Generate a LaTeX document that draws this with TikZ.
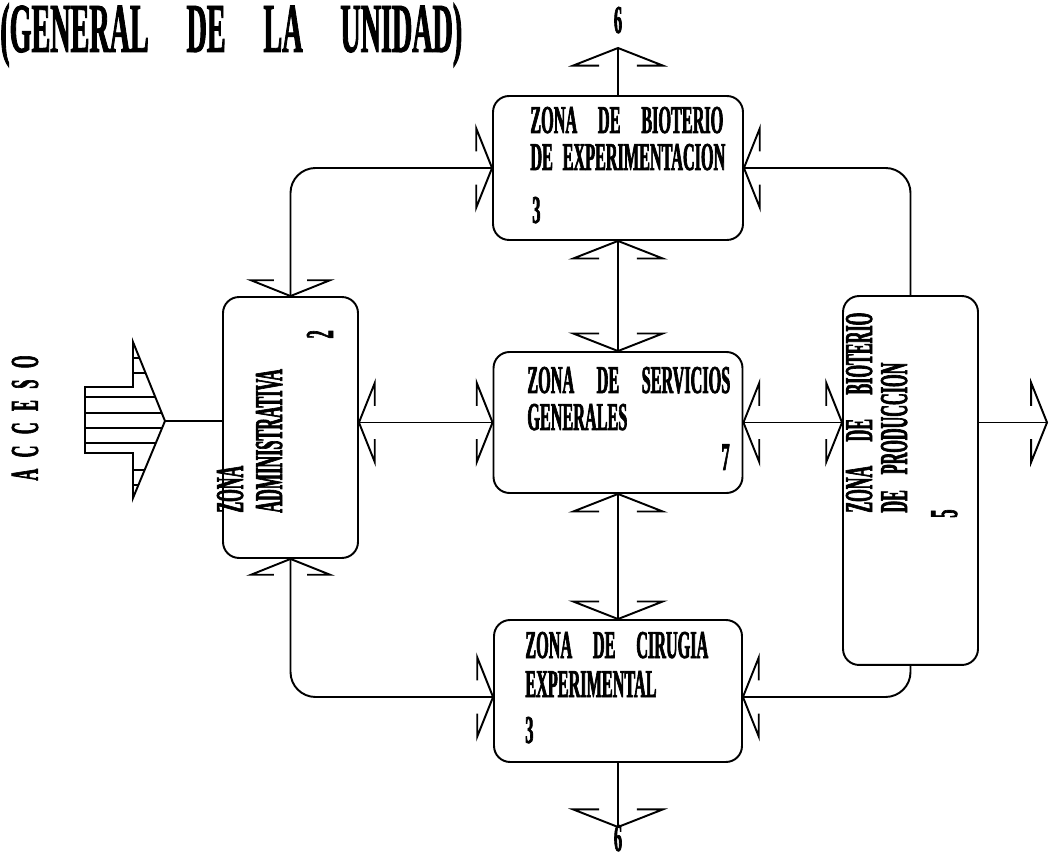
\documentclass[tikz,border=0pt]{standalone}
\usepackage{fontspec}
\newfontfamily\plotfont[FakeStretch=0.41, FakeBold=1.6]{Liberation Serif Bold}
\newfontfamily\titlefont[FakeStretch=0.40, FakeBold=1.2]{Liberation Serif Bold}
\usetikzlibrary{arrows.meta}

\newcommand\zonafont{\plotfont\fontsize{22.5}{21}\selectfont}
\newcommand\jline[2]{\makebox[#1][s]{#2}}

% open barb with short return ticks
\pgfdeclarearrow{
  name = Barb,
  defaults = {length = 9pt, width = 45pt},
  parameters = {\the\pgfarrowlength,\the\pgfarrowwidth},
  setup code = {
    \pgfarrowssettipend{0pt}
    \pgfarrowssetlineend{0pt}
    \pgfarrowssetvisualbackend{-\pgfarrowlength}
    \pgfarrowssetbackend{-\pgfarrowlength}
    \pgfarrowshullpoint{0pt}{0pt}
    \pgfarrowsupperhullpoint{-\pgfarrowlength}{.5\pgfarrowwidth}
    \pgfarrowssavethe\pgfarrowlength
    \pgfarrowssavethe\pgfarrowwidth
  },
  drawing code = {
    \pgfsetdash{}{0pt}
    \pgfpathmoveto{\pgfpoint{-\pgfarrowlength}{.21\pgfarrowwidth}}
    \pgfpathlineto{\pgfpoint{-\pgfarrowlength}{.5\pgfarrowwidth}}
    \pgfpathlineto{\pgfpointorigin}
    \pgfpathlineto{\pgfpoint{-\pgfarrowlength}{-.5\pgfarrowwidth}}
    \pgfpathlineto{\pgfpoint{-\pgfarrowlength}{-.21\pgfarrowwidth}}
    \pgfusepathqstroke
  }
}

\tikzset{
  htip/.tip={Barb},
  vtip/.tip={Barb[length=10pt,width=51pt]},
  zone/.style={draw, rounded corners=0.32cm, line width=1.1pt, inner sep=0pt},
  link/.style={line width=1.1pt, rounded corners=0.5cm},
  txt/.style={font=\zonafont, inner sep=0pt, anchor=base west},
}

\begin{document}
\begin{tikzpicture}[x=0.02cm,y=-0.02cm,line join=miter]
  \clip (0,0) rectangle (1061,857);

  % Title
  \node[txt, font=\titlefont\fontsize{40}{40}\selectfont] (title) at (0,52)
    {\jline{9.24cm}{(GENERAL DE LA UNIDAD)}};

  % Zones
  \node[zone, minimum width=5cm, minimum height=2.88cm] (bexp) at (618,168) {};
  \node[zone, minimum width=4.98cm, minimum height=2.82cm] (sgen) at (618,422.5) {};
  \node[zone, minimum width=4.96cm, minimum height=2.84cm] (cir) at (618,691) {};
  \node[zone, minimum width=2.7cm, minimum height=5.22cm] (adm) at (290.5,427.5) {};
  \node[zone, minimum width=2.7cm, minimum height=7.38cm] (prod) at (910.5,480.5) {};

  % Zone texts
  \node[txt] (bexp-a) at (530,133) {\jline{3.86cm}{ZONA DE BIOTERIO}};
  \node[txt] (bexp-b) at (530,170) {\jline{3.9cm}{DE EXPERIMENTACION}};
  \node[txt] (bexp-n) at (532,223) {3};

  \node[txt] (sgen-a) at (527,393) {\jline{4.06cm}{ZONA DE SERVICIOS}};
  \node[txt] (sgen-b) at (527,430) {GENERALES};
  \node[txt, anchor=base east] (sgen-n) at (730,470) {7};

  \node[txt] (cir-a) at (525,658) {\jline{3.66cm}{ZONA DE CIRUGIA}};
  \node[txt] (cir-b) at (525,697) {EXPERIMENTAL};
  \node[txt] (cir-n) at (525,743) {3};

  \node[txt, rotate=90] (adm-a) at (243,513) {ZONA};
  \node[txt, rotate=90] (adm-b) at (282,513) {ADMINISTRATIVA};
  \node[txt, rotate=90, anchor=base east] (adm-n) at (333,330) {2};

  \node[txt, rotate=90] (prod-a) at (872,513) {\jline{4.0cm}{ZONA DE BIOTERIO}};
  \node[txt, rotate=90] (prod-b) at (907,513) {\jline{3.0cm}{DE PRODUCCION}};
  \node[txt, rotate=90] (prod-n) at (957,518) {5};

  % Access arrow
  \node[font=\zonafont, inner sep=0pt, rotate=90] (acceso) at (25,418)
    {\jline{2.5cm}{A C C E S O}};
  \draw[line width=1.1pt] (85,387) -- (133,387) -- (133,342) -- (165,421)
    -- (133,498) -- (133,453) -- (85,453) -- cycle;
  \begin{scope}
    \clip (85,387) -- (133,387) -- (133,342) -- (165,421)
      -- (133,498) -- (133,453) -- (85,453) -- cycle;
    \foreach \y in {358,373,397,413,428,443,470,485}
      \draw[line width=0.9pt] (80,\y) -- (170,\y);
  \end{scope}
  \coordinate (acctip) at (165,421);

  % Free ends
  \coordinate (top6) at (618,48);
  \coordinate (bot6) at (618,827);
  \coordinate (out) at (1047,422.5);
  \node[txt, anchor=base] (n-top) at (618,33) {6};
  \node[txt, anchor=base] (n-bot) at (618,851) {6};

  % Links
  \draw[link, -vtip] (bexp.north) -- (top6);
  \draw[link, vtip-vtip] (bexp.south) -- (sgen.north);
  \draw[link, vtip-vtip] (sgen.south) -- (cir.north);
  \draw[link, -vtip] (cir.south) -- (bot6);

  \draw[link, htip-htip] (adm.north) |- (bexp.west);
  \draw[link, -htip] (prod.north) |- (bexp.east);
  \draw[link, htip-htip] (adm.south) |- ([yshift=-0.12cm]cir.west);
  \draw[link, -htip] (prod.south) |- ([yshift=-0.12cm]cir.east);

  \draw[link] (acctip) -- (acctip -| adm.west);
  \draw[link, htip-htip] (adm.east |- sgen.west) -- (sgen.west);
  \draw[link, htip-htip] (sgen.east) -- (prod.west |- sgen.east);
  \draw[link, -htip] (prod.east |- sgen.east) -- (out);
\end{tikzpicture}
\end{document}
